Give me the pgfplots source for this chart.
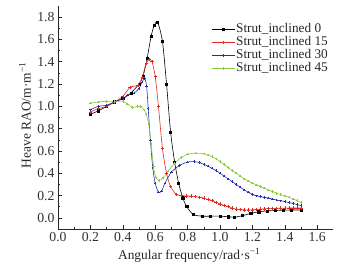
\documentclass[border=0pt]{standalone}
\usepackage{pgfplots}
\pgfplotsset{compat=1.18}
\usepackage{fontspec}
\setmainfont{Liberation Serif}
\definecolor{cRed}{RGB}{228,40,30}
\definecolor{cBlue}{RGB}{35,45,175}
\definecolor{cGreen}{RGB}{140,200,65}
\begin{document}
\begin{tikzpicture}
\path[use as bounding box] (-58bp,-39bp) rectangle (294bp,229bp);
\begin{axis}[
  scale only axis,
  width=275.4bp, height=223bp,
  xmin=0, xmax=1.7, ymin=-0.1, ymax=1.9,
  axis lines=left,
  axis line style={-, line width=0.7pt, black!85},
  xtick={0,0.2,...,1.6}, ytick={0,0.2,...,1.8},
  minor x tick num=1, minor y tick num=1,
  tick align=inside,
  major tick length=4bp, minor tick length=2.5bp,
  tick style={line width=0.6pt, black!85},
  xticklabel style={/pgf/number format/fixed, /pgf/number format/precision=1, /pgf/number format/fixed zerofill},
  yticklabel style={/pgf/number format/fixed, /pgf/number format/precision=1, /pgf/number format/fixed zerofill},
  /pgf/number format/assume math mode=true,
  ticklabel style={font=\fontsize{13.8}{14}\selectfont, text=black!80},
  label style={font=\fontsize{13.5}{14}\selectfont, text=black!85},
  xlabel={Angular frequency/rad·s\textsuperscript{−1}},
  ylabel={Heave RAO/m·m\textsuperscript{−1}},
  xlabel style={at={(axis cs:0.81,-0.1)}, anchor=north, yshift=-16bp},
  ylabel style={at={(axis description cs:-0.12,0.51)}, anchor=center, rotate=0},
  legend style={at={(0.556,0.925)}, anchor=north west, draw=none, fill=none,
     font=\fontsize{13.3}{13.3}\selectfont, row sep=0pt, inner sep=0pt,
     nodes={inner sep=1pt, text height=8.8bp, text depth=2.2bp, text=black!85}},
  legend cell align=left,
  legend image code/.code={\draw[mark repeat=2,mark phase=2,#1] plot coordinates {(0cm,0cm) (0.41cm,0cm) (0.82cm,0cm)};},
  every axis plot/.append style={line width=0.6pt, smooth, tension=0.45},
]
\addplot[black, mark=square*, mark size=1.1pt] coordinates {
(0.20,0.93) (0.25,0.96) (0.30,1.00) (0.35,1.04) (0.40,1.07) (0.45,1.12) (0.50,1.20)
(0.525,1.27) (0.55,1.43) (0.575,1.63) (0.595,1.73) (0.615,1.755) (0.645,1.58)
(0.67,1.20) (0.695,0.77) (0.72,0.50) (0.745,0.31) (0.77,0.18) (0.795,0.10)
(0.835,0.03) (0.89,0.015) (0.94,0.015) (1.00,0.015) (1.05,0.01) (1.09,0.006)
(1.14,0.02) (1.19,0.04) (1.24,0.055) (1.29,0.062) (1.34,0.066) (1.39,0.069)
(1.44,0.07) (1.50,0.07)};
\addlegendentry{Strut\_inclined 0}
\addplot[cRed, mark=+, mark size=1.7pt] coordinates {
(0.20,0.95) (0.25,0.98) (0.30,1.00) (0.35,1.04) (0.40,1.09) (0.445,1.17) (0.495,1.19)
(0.52,1.26) (0.545,1.39) (0.565,1.42) (0.58,1.40) (0.60,1.27) (0.62,1.00)
(0.645,0.62) (0.67,0.40) (0.695,0.28) (0.73,0.21) (0.76,0.20) (0.79,0.197)
(0.82,0.195) (0.85,0.19) (0.875,0.185) (0.90,0.177) (0.925,0.165) (0.95,0.155) (0.975,0.14) (1.00,0.125)
(1.025,0.11) (1.05,0.10) (1.075,0.088) (1.10,0.078) (1.125,0.074) (1.15,0.072) (1.175,0.071) (1.20,0.072)
(1.225,0.075) (1.25,0.078) (1.275,0.081) (1.30,0.084) (1.325,0.085) (1.35,0.086) (1.375,0.087) (1.40,0.087)
(1.425,0.088) (1.45,0.088) (1.475,0.088) (1.50,0.088)};
\addlegendentry{Strut\_inclined 15}
\addplot[cBlue, mark=+, mark size=1.2pt] coordinates {
(0.20,0.97) (0.25,1.00) (0.30,1.01) (0.35,1.04) (0.40,1.07) (0.43,1.10) (0.47,1.12)
(0.50,1.16) (0.52,1.22) (0.535,1.25) (0.547,1.18) (0.557,0.98) (0.57,0.70)
(0.585,0.45) (0.60,0.31) (0.62,0.23) (0.64,0.24) (0.66,0.31) (0.70,0.41)
(0.75,0.47) (0.80,0.50) (0.84,0.505) (0.875,0.495) (0.90,0.48) (0.925,0.465) (0.95,0.445) (0.975,0.425) (1.00,0.40)
(1.025,0.375) (1.05,0.35) (1.075,0.325) (1.10,0.30) (1.125,0.275) (1.15,0.25) (1.175,0.23) (1.20,0.21)
(1.225,0.198) (1.25,0.19) (1.275,0.183) (1.30,0.177) (1.325,0.168) (1.35,0.16) (1.375,0.153) (1.40,0.146)
(1.425,0.138) (1.45,0.13) (1.475,0.12) (1.50,0.11)};
\addlegendentry{Strut\_inclined 30}
\addplot[cGreen, mark=+, mark size=1.2pt] coordinates {
(0.20,1.03) (0.25,1.04) (0.30,1.045) (0.35,1.045) (0.40,1.045) (0.43,1.02) (0.46,0.99)
(0.49,1.00) (0.51,1.00) (0.53,0.97) (0.545,0.93) (0.56,0.84) (0.575,0.66)
(0.59,0.46) (0.605,0.36) (0.625,0.335) (0.65,0.36) (0.68,0.42) (0.72,0.49)
(0.76,0.54) (0.80,0.57) (0.85,0.58) (0.90,0.575) (0.925,0.565) (0.95,0.55) (0.975,0.53) (1.00,0.505)
(1.025,0.48) (1.05,0.45) (1.075,0.425) (1.10,0.40) (1.125,0.375) (1.15,0.35) (1.175,0.33) (1.20,0.31)
(1.225,0.295) (1.25,0.28) (1.275,0.265) (1.30,0.25) (1.325,0.235) (1.35,0.22) (1.375,0.208) (1.40,0.197)
(1.425,0.185) (1.45,0.17) (1.475,0.155) (1.50,0.137)};
\addlegendentry{Strut\_inclined 45}
\end{axis}
\end{tikzpicture}
\end{document}
